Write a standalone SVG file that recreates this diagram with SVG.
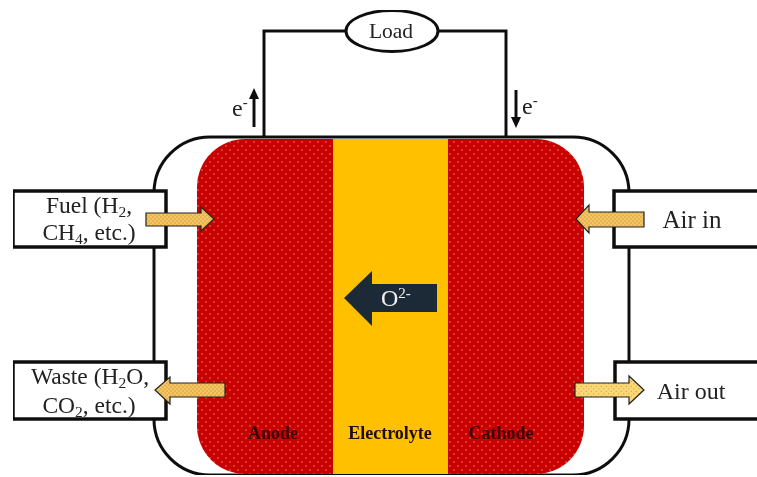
<svg xmlns="http://www.w3.org/2000/svg" width="757" height="477" viewBox="0 0 757 477">
<style>
text{font-family:"Liberation Serif","Times New Roman",serif;fill:#222}
.lbl{font-size:23.500px}
.box{fill:#fff;stroke:#111;stroke-width:3.5}
.wire{fill:none;stroke:#111;stroke-width:3}
.pipe{stroke:#222;stroke-width:1.2;fill:url(#sand)}
.tag{font-size:18px;font-weight:bold;fill:#3a0404}
</style>
<defs>
<filter id="soft" x="0" y="0" width="100%" height="100%"><feGaussianBlur stdDeviation="0.45"/></filter>
<pattern id="dots" width="8" height="8" patternUnits="userSpaceOnUse">
<rect width="8" height="8" fill="#c80606"/>
<circle cx="2" cy="2" r="0.8" fill="#f47a70"/>
<circle cx="6" cy="6" r="0.8" fill="#f47a70"/>
</pattern>
<pattern id="sand" width="4" height="4" patternUnits="userSpaceOnUse">
<rect width="4" height="4" fill="#f6c560"/>
<circle cx="1" cy="1" r="0.6" fill="#a97f35"/>
<circle cx="3" cy="3" r="0.6" fill="#a97f35"/>
</pattern>
<pattern id="sand-light" width="5" height="5" patternUnits="userSpaceOnUse">
<rect width="5" height="5" fill="#fbd874"/>
<circle cx="1.250" cy="1.250" r="0.6" fill="#b8923f"/>
<circle cx="3.750" cy="3.750" r="0.6" fill="#b8923f"/>
</pattern>
</defs>
<g filter="url(#soft)">
<g id="housing"><rect x="154" y="137" width="475" height="338" rx="56" ry="56" fill="#fff" stroke="#111" stroke-width="3"/></g>
<g id="cell">
<rect id="anode-cathode" x="197" y="139" width="387" height="335" rx="48" ry="48" fill="url(#dots)"/>
<rect id="electrolyte" x="333" y="139" width="115" height="335" fill="#ffc000"/>
<text class="tag" x="273" y="439" text-anchor="middle">Anode</text>
<text class="tag" x="390" y="439" text-anchor="middle" style="fill:#1a1000">Electrolyte</text>
<text class="tag" x="501" y="439" text-anchor="middle">Cathode</text>
</g>
<g id="connectors">
<path class="wire" d="M264 137V31H346M438 31H506V137"/>
<path d="M254 127V93" fill="none" stroke="#111" stroke-width="3"/><path d="M254 88L259 99H249Z" fill="#111"/>
<path d="M516 90V122" fill="none" stroke="#111" stroke-width="3"/><path d="M516 128L521 117H511Z" fill="#111"/>
</g>
<g id="load"><ellipse cx="392" cy="31" rx="46" ry="20.500" fill="#fff" stroke="#111" stroke-width="3"/><text x="391" y="38" text-anchor="middle" font-size="21.500">Load</text></g>
<g id="e-left"><text x="232" y="116" font-size="24">e<tspan font-size="15" dy="-9">-</tspan></text></g>
<g id="e-right"><text x="522" y="114" font-size="24">e<tspan font-size="15" dy="-9">-</tspan></text></g>
<g id="fuel"><rect class="box" x="13" y="191" width="153" height="56"/>
<text class="lbl" x="89" y="213" text-anchor="middle">Fuel (H<tspan font-size="15.500" dy="4">2</tspan><tspan dy="-4">,</tspan></text>
<text class="lbl" x="89" y="240" text-anchor="middle">CH<tspan font-size="15.500" dy="4">4</tspan><tspan dy="-4">, etc.)</tspan></text></g>
<g id="waste"><rect class="box" x="13" y="362" width="153" height="57"/>
<text class="lbl" x="90" y="384" text-anchor="middle">Waste (H<tspan font-size="15.500" dy="4">2</tspan><tspan dy="-4">O,</tspan></text>
<text class="lbl" x="89" y="413" text-anchor="middle">CO<tspan font-size="15.500" dy="4">2</tspan><tspan dy="-4">, etc.)</tspan></text></g>
<g id="air-in"><rect class="box" x="614" y="191" width="146" height="56"/><text x="692" y="228" text-anchor="middle" font-size="25">Air in</text></g>
<g id="air-out"><rect class="box" x="615" y="362" width="145" height="57"/><text x="691" y="399" text-anchor="middle" font-size="24">Air out</text></g>
<g id="arrows">
<path class="pipe" d="M146 213H201V207L214 219L201 231V226H146Z"/>
<path class="pipe" d="M225 383H170V377L155 390L170 404V397H225Z"/>
<path class="pipe" d="M644 212H589V205L576 219L589 233V227H644Z"/>
<path class="pipe" style="fill:url(#sand-light)" d="M575 383H629V376L644 390L629 404V397H575Z"/>
</g>
<g id="oxygen"><path d="M344 298L372 271V284H437V312H372V326Z" fill="#1f2b38"/>
<text x="381" y="306" font-size="24" style="fill:#f2f2f2">O<tspan font-size="15" dy="-8">2-</tspan></text></g>
</g>
</svg>
